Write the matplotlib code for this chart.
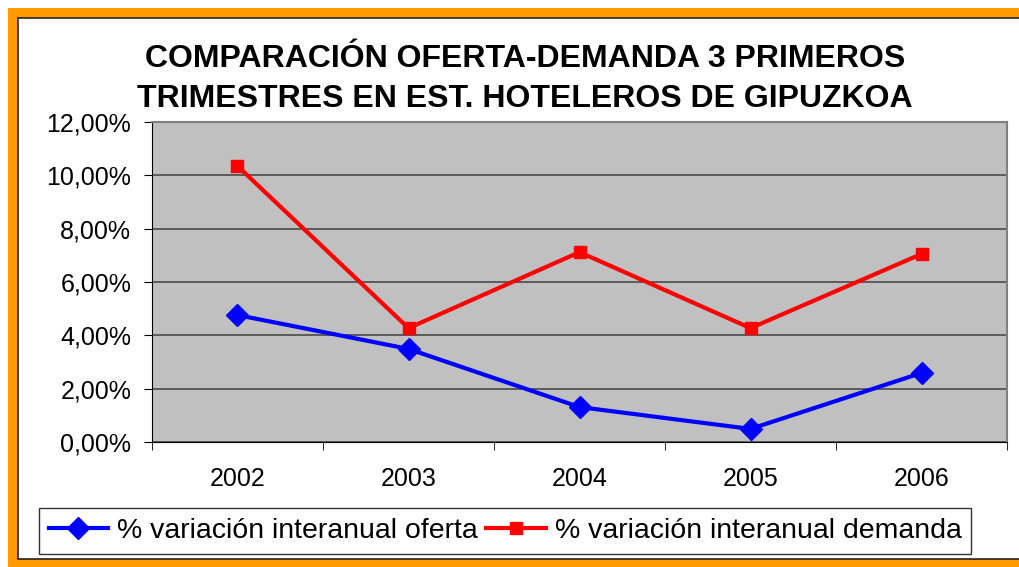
import matplotlib.pyplot as plt
from matplotlib.patches import Rectangle
from matplotlib.ticker import FuncFormatter
import numpy as np

plt.rcParams['font.family'] = ['Liberation Sans', 'DejaVu Sans']

years = ['2002', '2003', '2004', '2005', '2006']
oferta = [4.76, 3.49, 1.31, 0.49, 2.59]
demanda = [10.35, 4.27, 7.12, 4.27, 7.05]

fig = plt.figure(figsize=(10.2, 5.67), dpi=100)

# orange frame around the chart
fig.patches.append(Rectangle((8 / 1020, 0), 1.1, 1 - 8 / 567, transform=fig.transFigure,
                             facecolor='#ff9900', edgecolor='none', zorder=-2))
fig.patches.append(Rectangle((18 / 1020, 8 / 567), 1.1, 1 - 26 / 567, transform=fig.transFigure,
                             facecolor='white', edgecolor='#222222', linewidth=1.2, zorder=-1))

ax = fig.add_axes([152 / 1020, 1 - 442 / 567, 855 / 1020, 320 / 567])
ax.set_zorder(5)
ax.set_facecolor('#c0c0c0')
x = np.arange(len(years))

ax.plot(x, oferta, color='#0000ff', linewidth=3, marker='D', markersize=11,
        label='% variación interanual oferta', zorder=3)
ax.plot(x, demanda, color='#ff0000', linewidth=3, marker='s', markersize=8.5,
        label='% variación interanual demanda', zorder=3)

ax.set_xlim(-0.5, 4.5)
ax.set_ylim(0, 12)
ax.set_yticks(np.arange(0, 12.01, 2))
ax.yaxis.set_major_formatter(FuncFormatter(lambda v, p: f'{v:.2f}'.replace('.', ',') + '%'))
ax.set_xticks(x)
ax.set_xticklabels(years)
ax.set_xticks(np.arange(-0.5, 4.6, 1), minor=True)
ax.tick_params(axis='x', which='major', length=0, pad=18, labelsize=18)
ax.tick_params(axis='x', which='minor', length=6, color='black')
ax.tick_params(axis='y', length=6, labelsize=18, pad=9)
ax.grid(axis='y', color='#4a4a4a', linewidth=1.2)
ax.set_axisbelow(True)
for s in ['top', 'right']:
    ax.spines[s].set_color('#808080')
    ax.spines[s].set_linewidth(1.5)
ax.spines['left'].set_color('black')
ax.spines['bottom'].set_color('black')

fig.text(525 / 1020, 1 - 79 / 567,
         'COMPARACIÓN OFERTA-DEMANDA 3 PRIMEROS\nTRIMESTRES EN EST. HOTELEROS DE GIPUZKOA',
         ha='center', va='center', fontsize=23, fontweight='bold', linespacing=1.4)

leg = fig.legend(loc='center', bbox_to_anchor=(505 / 1020, 1 - 531 / 567), ncol=2,
                 fontsize=20.5, frameon=True, fancybox=False, edgecolor='black',
                 handlelength=2.1, columnspacing=0.3, handletextpad=0.3, borderpad=0.35)
leg.get_frame().set_linewidth(1)

fig.savefig('out.png', dpi=100)
